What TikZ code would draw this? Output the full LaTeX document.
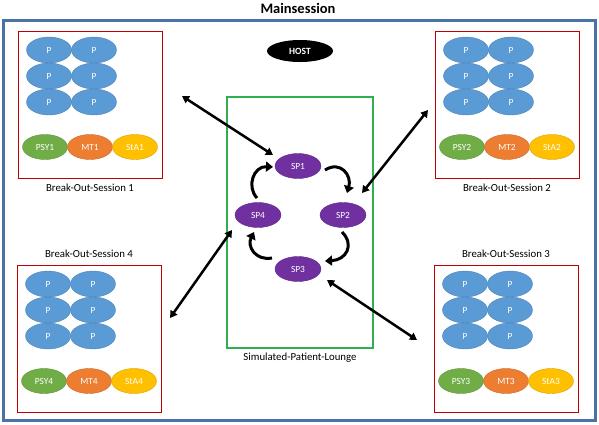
\documentclass[tikz,border=0pt]{standalone}
\usepackage{fontspec}
\setmainfont{Carlito}
\usetikzlibrary{shapes.geometric,arrows.meta,calc}
\definecolor{frameblue}{HTML}{4A72A6}
\definecolor{pblue}{HTML}{5B9BD5}
\definecolor{psygreen}{HTML}{70AD47}
\definecolor{mtorange}{HTML}{ED7D31}
\definecolor{stayellow}{HTML}{FFC000}
\definecolor{sppurple}{HTML}{7030A0}
\definecolor{boxred}{HTML}{C00000}
\definecolor{loungegreen}{HTML}{2EB050}
\tikzset{
  blob/.style={ellipse, minimum width=45pt, minimum height=26pt, inner sep=0pt, text=white, font=\fontsize{9.4}{10}\selectfont, draw=#1!85!black, line width=0.4pt, fill=#1},
  pnode/.style={blob=pblue},
  psy/.style={blob=psygreen, minimum height=25pt},
  mt/.style={blob=mtorange, minimum height=25pt},
  sta/.style={blob=stayellow, minimum height=25pt},
  spnode/.style={blob=sppurple, minimum width=46pt, minimum height=25pt},
  sessbox/.style={draw=boxred, line width=0.9pt},
  lbl/.style={font=\fontsize{10.8}{12}\selectfont, text=black},
  dbl/.style={line width=2.5pt, {Triangle[length=7pt,width=8pt]}-{Triangle[length=7pt,width=8pt]}},
  curv/.style={line width=3pt, -{Triangle[length=7pt,width=10pt]}},
}
\begin{document}
\begin{tikzpicture}[x=1pt,y=-1pt]
\useasboundingbox (0,0) rectangle (599,424);
% outer frame
\draw[frameblue, line width=3pt] (3,20) rectangle (595,420);
\node[font=\bfseries\fontsize{14.5}{16}\selectfont] (title) at (298,8) {Mainsession};
% host
\node[ellipse, fill=black, minimum width=66pt, minimum height=22pt, inner sep=0pt, text=white, font=\bfseries\fontsize{9.5}{10}\selectfont] (host) at (300,51) {HOST};
% sessions
\foreach \id/\lx/\ty/\ly in {1/18/31/188, 2/435/31/188, 4/17/265/254, 3/434/265/254} {
  \draw[sessbox] (\lx,\ty) rectangle +(144,147);
  \node[lbl] (bos\id) at ($(\lx,\ly)+(72,0)$) {Break-Out-Session \id};
  \foreach \r in {0,1,2} {
    \node[pnode] (p\id a\r) at ($(\lx,\ty)+(31,19+26*\r)$) {P};
    \node[pnode] (p\id b\r) at ($(\lx,\ty)+(76,19+26*\r)$) {P};
  }
  \node[psy] (psy\id) at ($(\lx,\ty)+(27,116)$) {PSY\id};
  \node[mt] (mt\id) at ($(\lx,\ty)+(72,116)$) {MT\id};
  \node[sta] (sta\id) at ($(\lx,\ty)+(117,116)$) {StA\id};
}
% lounge
\draw[loungegreen, line width=1.1pt] (227,97) rectangle (373,348);
\node[lbl] (lounge) at (300,358) {Simulated-Patient-Lounge};
\node[spnode] (sp1) at (298,166) {SP1};
\node[spnode] (sp2) at (343,215) {SP2};
\node[spnode] (sp3) at (298,269) {SP3};
\node[spnode] (sp4) at (258,215) {SP4};
% curved arrows
\draw[curv] (325,170) .. controls (341,160) and (352,176) .. (347,193);
\draw[curv] (342,232) .. controls (355,245) and (346,260) .. (325,261);
\draw[curv] (272,258) .. controls (255,261) and (247,246) .. (254,232);
\draw[curv] (257,198) .. controls (246,186) and (254,166) .. (273,167);
% straight double arrows
\coordinate (a1) at (182,96);  \coordinate (b1) at (273,155);
\coordinate (a2) at (428,110); \coordinate (b2) at (362,193);
\coordinate (a4) at (170,318); \coordinate (b4) at (232,230);
\coordinate (a3) at (417,340); \coordinate (b3) at (327,280);
\draw[dbl] (a1) -- (b1);
\draw[dbl] (a2) -- (b2);
\draw[dbl] (a4) -- (b4);
\draw[dbl] (a3) -- (b3);
\end{tikzpicture}
\end{document}
